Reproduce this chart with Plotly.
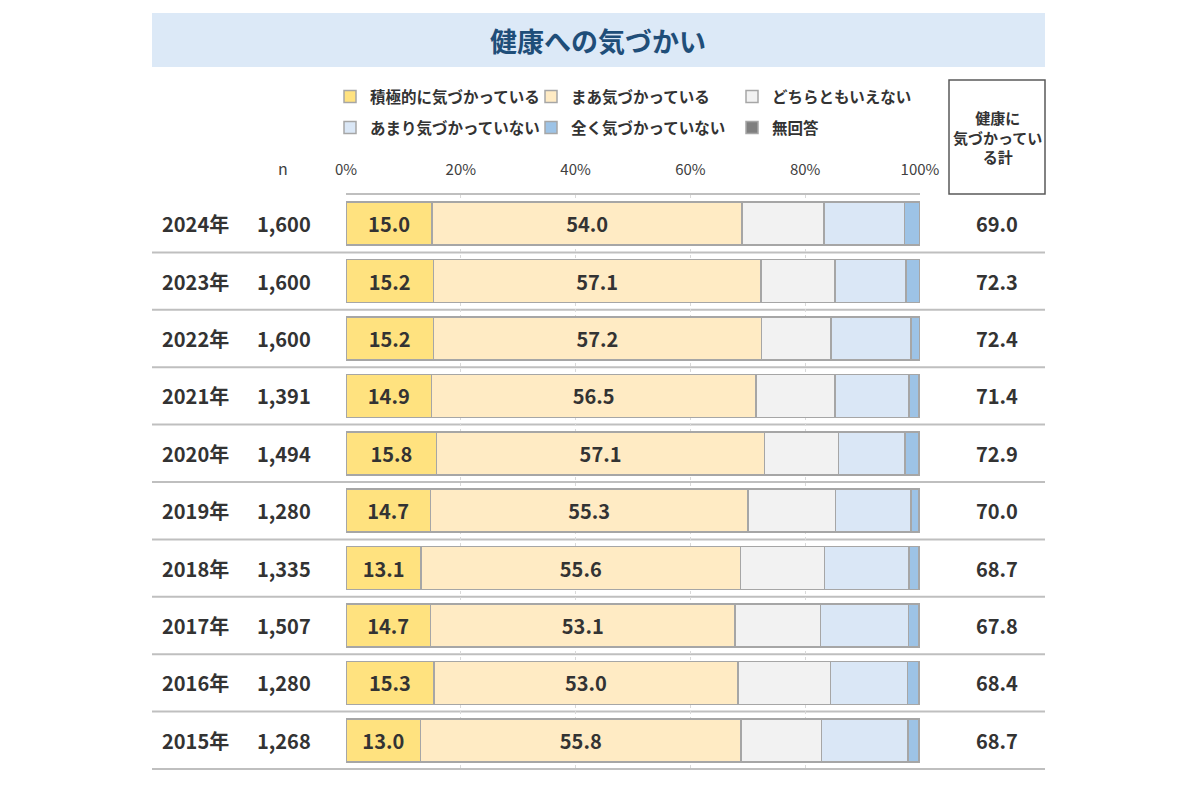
import plotly.graph_objects as go

years = ["2024年", "2023年", "2022年", "2021年", "2020年", "2019年", "2018年", "2017年", "2016年", "2015年"]
n_values = ["1,600", "1,600", "1,600", "1,391", "1,494", "1,280", "1,335", "1,507", "1,280", "1,268"]
active = [15.0, 15.2, 15.2, 14.9, 15.8, 14.7, 13.1, 14.7, 15.3, 13.0]
somewhat = [54.0, 57.1, 57.2, 56.5, 57.1, 55.3, 55.6, 53.1, 53.0, 55.8]
neutral = [14.3, 12.9, 12.1, 13.8, 12.9, 15.3, 14.7, 14.9, 16.1, 14.0]
not_much = [14.0, 12.4, 13.9, 12.9, 11.6, 13.1, 14.7, 15.3, 13.4, 15.1]
not_at_all = [2.6, 2.3, 1.5, 1.7, 2.4, 1.4, 1.7, 1.8, 2.0, 1.9]
no_answer = [0.1, 0.1, 0.1, 0.2, 0.2, 0.2, 0.2, 0.2, 0.2, 0.2]
totals = ["69.0", "72.3", "72.4", "71.4", "72.9", "70.0", "68.7", "67.8", "68.4", "68.7"]

series_names = ["積極的に気づかっている", "まあ気づかっている", "どちらともいえない",
                "あまり気づかっていない", "全く気づかっていない", "無回答"]
series_values = [active, somewhat, neutral, not_much, not_at_all, no_answer]
series_colors = ["#FFE27F", "#FFEBC4", "#F2F2F2", "#DAE7F6", "#9DC3E6", "#7F7F7F"]
series_labeled = [True, True, False, False, False, False]
series_legend = ["legend", "legend", "legend", "legend2", "legend2", "legend2"]

tick_vals = [0, 20, 40, 60, 80, 100]
tick_text = ["0%", "20%", "40%", "60%", "80%", "100%"]

title_text = "健康への気づかい"
header_text = "健康に<br>気づかってい<br>る計"

FONT = "Noto Sans CJK JP, Noto Sans, sans-serif"
W, H = 1200, 800


def px(x):
    return x / W


def py(y):
    return 1 - y / H


fig = go.Figure()
for name, vals, color, lab, lg in zip(series_names, series_values, series_colors, series_labeled, series_legend):
    fig.add_trace(go.Bar(
        y=years, x=vals, name=name, orientation="h",
        marker=dict(color=color, line=dict(color="#A6A6A6", width=1.5)),
        text=[f"{v:.1f}" for v in vals] if lab else None,
        texttemplate="%{text}" if lab else None,
        textposition="inside" if lab else "none",
        insidetextanchor="middle",
        constraintext="none",
        textfont=dict(family=FONT, size=20, color="#333333", weight="bold"),
        legend=lg,
        hoverinfo="x+name",
    ))

shapes = []
shapes.append(dict(type="rect", xref="paper", yref="paper", x0=px(152), x1=px(1045), y0=py(67), y1=py(13),
                   fillcolor="#DCE9F7", line=dict(width=0), layer="below"))
shapes.append(dict(type="rect", xref="paper", yref="paper", x0=px(949), x1=px(1045), y0=py(194), y1=py(80),
                   fillcolor="rgba(0,0,0,0)", line=dict(color="#595959", width=1.5)))
for i in range(len(years)):
    shapes.append(dict(type="line", xref="paper", yref="y", x0=px(152), x1=px(1045), y0=i + 0.5, y1=i + 0.5,
                       line=dict(color="#BFBFBF", width=2), layer="below"))

annotations = []
annotations.append(dict(text=f"<b>{title_text}</b>", xref="paper", yref="paper", x=px(598), y=py(40),
                        showarrow=False, font=dict(family=FONT, size=27, color="#1F4E79"),
                        xanchor="center", yanchor="middle"))
annotations.append(dict(text=f"<b>{header_text}</b>", xref="paper", yref="paper", x=px(997), y=py(137),
                        showarrow=False, font=dict(family=FONT, size=15, color="#333333"),
                        xanchor="center", yanchor="middle", align="center"))
annotations.append(dict(text="n", xref="paper", yref="paper", x=px(283), y=py(168),
                        showarrow=False, font=dict(family=FONT, size=16, color="#404040"),
                        xanchor="center", yanchor="middle"))
for yr, n, t in zip(years, n_values, totals):
    annotations.append(dict(text=f"<b>{yr}</b>", xref="paper", yref="y", x=px(160), y=yr, showarrow=False,
                            font=dict(family=FONT, size=20, color="#333333"), xanchor="left", yanchor="middle"))
    annotations.append(dict(text=f"<b>{n}</b>", xref="paper", yref="y", x=px(313), y=yr, showarrow=False,
                            font=dict(family=FONT, size=20, color="#333333"), xanchor="right", yanchor="middle"))
    annotations.append(dict(text=f"<b>{t}</b>", xref="paper", yref="y", x=px(997), y=yr, showarrow=False,
                            font=dict(family=FONT, size=20, color="#333333"), xanchor="center", yanchor="middle"))

legend_common = dict(orientation="h", xanchor="left", yanchor="middle", itemwidth=30,
                     entrywidth=156, entrywidthmode="pixels", bgcolor="rgba(0,0,0,0)",
                     font=dict(family=FONT, size=15.5, color="#333333", weight="bold"),
                     itemclick=False, itemdoubleclick=False, traceorder="normal")

fig.update_layout(
    width=W, height=H,
    margin=dict(l=0, r=0, t=0, b=0, autoexpand=False),
    paper_bgcolor="white", plot_bgcolor="white",
    barmode="stack", bargap=0.25,
    showlegend=True,
    legend=dict(x=px(330), y=py(97), **legend_common),
    legend2=dict(x=px(330), y=py(128), **legend_common),
    xaxis=dict(domain=[px(346), px(920)], range=[0, 100], side="top",
               tickvals=tick_vals, ticktext=tick_text, ticks="",
               tickfont=dict(family=FONT, size=15, color="#404040"),
               showgrid=True, gridcolor="#D9D9D9", griddash="dot", gridwidth=1,
               showline=True, linecolor="#BFBFBF", linewidth=2, zeroline=False,
               ticklabelstandoff=12, fixedrange=True, automargin=False),
    yaxis=dict(domain=[py(770), py(195)], categoryorder="array", categoryarray=years,
               autorange="reversed", showticklabels=False, showgrid=False, zeroline=False,
               showline=False, fixedrange=True, automargin=False),
    shapes=shapes, annotations=annotations,
    font=dict(family=FONT),
)

fig.write_html("out.html", config={"displayModeBar": False},
               post_script="document.body.style.margin='0';document.body.style.overflow='hidden';")
